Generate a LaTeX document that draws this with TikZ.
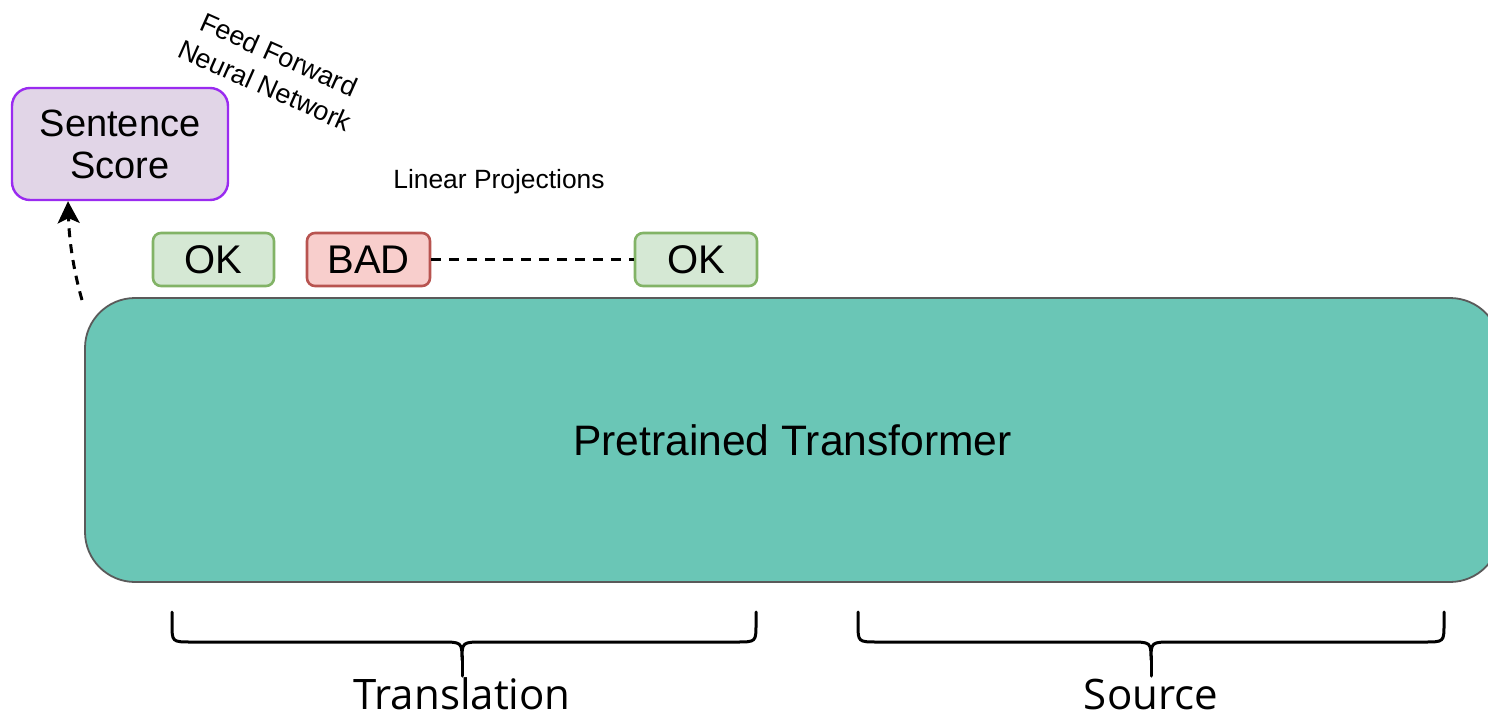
\documentclass[tikz,border=0pt]{standalone}
\usepackage{fontspec}
\setmainfont{Liberation Sans}
\newfontfamily\bracefont{Open Sans}
\usetikzlibrary{arrows.meta}
\definecolor{scoreFill}{HTML}{E1D5E7}
\definecolor{scoreLine}{HTML}{9A2BF0}
\definecolor{okFill}{HTML}{D5E8D4}
\definecolor{okLine}{HTML}{82B366}
\definecolor{badFill}{HTML}{F8CECC}
\definecolor{badLine}{HTML}{B85450}
\definecolor{tfFill}{HTML}{6AC6B6}
\definecolor{tfLine}{HTML}{5A5A5A}
\tikzset{
  tag/.style={draw, line width=1.3pt, rounded corners=4pt, minimum height=26.5pt,
    inner sep=0pt, font=\fontsize{20}{20}\selectfont},
  okbox/.style={tag, fill=okFill, draw=okLine},
  badbox/.style={tag, fill=badFill, draw=badLine},
  bracepath/.style={line width=1.5pt, line cap=round, line join=round},
  bracelabel/.style={font=\bracefont\fontsize{21}{21}\selectfont, inner sep=0pt},
}
\begin{document}
\begin{tikzpicture}[x=0.5pt, y=-0.5pt]
  \useasboundingbox (0,0) rectangle (1488,717);

  % backbone model
  \node[draw=tfLine, line width=0.9pt, fill=tfFill, rounded corners=25pt,
        minimum width=707.5pt, minimum height=142pt, inner sep=0pt,
        font=\fontsize{21.3}{21.3}\selectfont]
        (tf) at (792.5,440) {Pretrained Transformer};

  % sentence-level output
  \node[draw=scoreLine, line width=1.2pt, fill=scoreFill, rounded corners=9pt,
        minimum width=108pt, minimum height=56pt, inner sep=0pt, align=center,
        font=\fontsize{19}{21}\selectfont]
        (score) at (120,144) {Sentence\\Score};

  \node[rotate=-24, align=center, inner sep=0pt, font=\fontsize{13.5}{17}\selectfont]
        (ffn) at (272,70) {Feed Forward\\Neural Network};

  % word-level tags
  \node[okbox, minimum width=60.5pt] (ok1) at (213.5,259.5) {OK};
  \node[badbox, minimum width=61.5pt] (bad) at (368.5,259.5) {BAD};
  \node[okbox, minimum width=61pt] (ok2) at (696,259.5) {OK};
  \node[inner sep=0pt, font=\fontsize{13.2}{13.2}\selectfont] (lin) at (499,182) {Linear Projections};

  \draw[line width=1.2pt, dash pattern=on 5pt off 4pt] (bad.east) -- (ok2.west);

  % pooled representation to the sentence score
  \coordinate (cls) at (82,300);
  \draw[line width=1.5pt, dash pattern=on 4.5pt off 3.5pt,
        -{Stealth[length=11pt, width=11pt, inset=2.5pt]}]
        (cls) .. controls (72,265) and (69,235) .. (score.south -| 68,0);

  % input segments
  \draw[bracepath] (172,612) -- (172,624) .. controls (172,642) .. (192,642)
      -- (440,642) .. controls (462,642) .. (462,660)
      .. controls (462,642) .. (484,642) -- (736,642)
      .. controls (756,642) .. (756,624) -- (756,612);
  \draw[bracepath] (462,656) -- (462,676);
  \node[bracelabel] (trans) at (462,694) {Translation};

  \draw[bracepath] (858,612) -- (858,624) .. controls (858,642) .. (878,642)
      -- (1129,642) .. controls (1151,642) .. (1151,660)
      .. controls (1151,642) .. (1173,642) -- (1424,642)
      .. controls (1444,642) .. (1444,624) -- (1444,612);
  \draw[bracepath] (1151,656) -- (1151,676);
  \node[bracelabel] (src) at (1151,694) {Source};
\end{tikzpicture}
\end{document}
